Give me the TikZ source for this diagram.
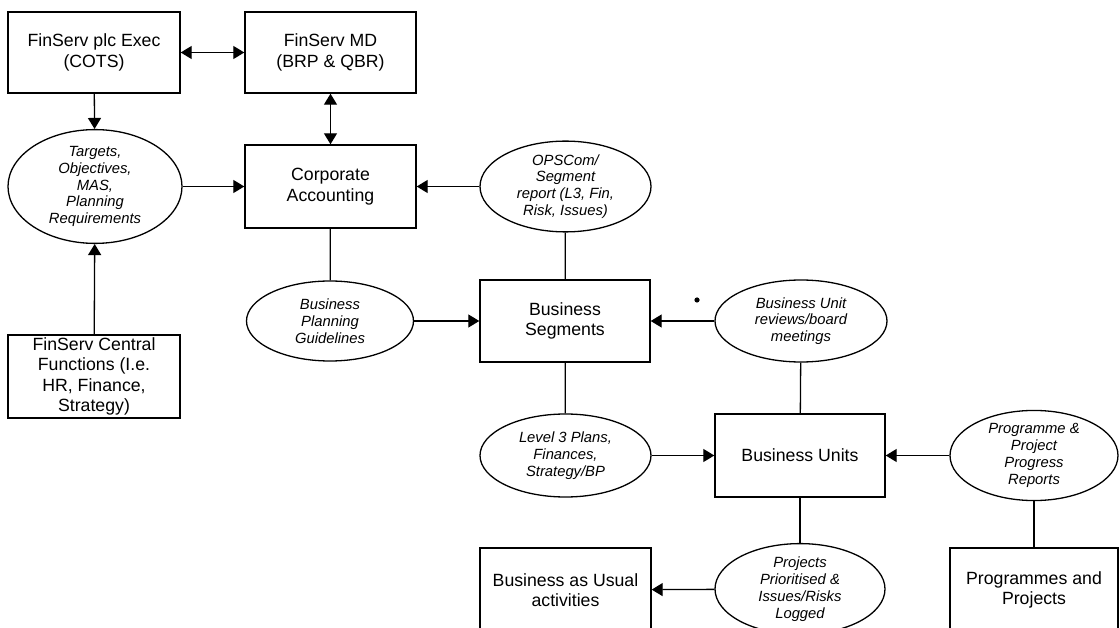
\documentclass[tikz,border=0pt]{standalone}
\usepackage{fontspec}
\setmainfont{Liberation Sans}
\usetikzlibrary{arrows.meta,shapes.geometric}

\tikzset{
  box/.style={draw, rectangle, line width=1.4pt, inner sep=0pt, align=center,
    font=\fontsize{17.7}{20.5}\selectfont},
  bubble/.style={draw, ellipse, line width=1.3pt, inner sep=0pt, align=center,
    font=\fontsize{14.8}{16.8}\selectfont\itshape},
  tip/.tip={Triangle[length=11pt,width=13pt]},
  link/.style={line width=1.3pt},
  flow/.style={line width=1.3pt, -tip},
  twoway/.style={line width=1.3pt, tip-tip}
}

\begin{document}
\begin{tikzpicture}[x=1pt, y=-1pt]
  \clip (0,0) rectangle (1120,628);

  % top row
  \node[box, minimum width=172pt, minimum height=81pt] (exec) at (94,52.5)
    {FinServ plc Exec\\(COTS)};
  \node[box, minimum width=171pt, minimum height=81pt] (md) at (330.5,52.5)
    {FinServ MD\\(BRP \& QBR)};

  % corporate level
  \node[box, minimum width=171pt, minimum height=83pt] (corp) at (330.5,186.5)
    {Corporate\\Accounting};
  \node[bubble, minimum width=174pt, minimum height=82pt] (targets) at (95,186.5)
    {Targets,\\Objectives,\\MAS,\\Planning\\Requirements};
  \node[bubble, minimum width=171pt, minimum height=81pt] (ops) at (565.5,186.5)
    {OPSCom/\\Segment\\report (L3, Fin,\\Risk, Issues)};
  \node[box, minimum width=172pt, minimum height=83pt] (central) at (94,376.5)
    {FinServ Central\\Functions (I.e.\\HR, Finance,\\Strategy)};

  % segment level
  \node[bubble, minimum width=167pt, minimum height=80pt] (bpg) at (330,321)
    {Business\\Planning\\Guidelines};
  \node[box, minimum width=170pt, minimum height=82pt] (seg) at (565,321)
    {Business\\Segments};
  \node[bubble, minimum width=172pt, minimum height=82pt] (bur) at (801,321)
    {Business Unit\\reviews/board\\meetings};

  % unit level
  \node[bubble, minimum width=171pt, minimum height=83pt] (l3) at (565.5,455.5)
    {Level 3 Plans,\\Finances,\\Strategy/BP};
  \node[box, minimum width=170pt, minimum height=83pt] (bu) at (800,455.5)
    {Business Units};
  \node[bubble, minimum width=168pt, minimum height=82pt] (ppr) at (1034,455.5)
    {Programme \&\\Project\\Progress\\Reports};

  % delivery level
  \node[box, minimum width=171pt, minimum height=84pt] (bau) at (565.5,590)
    {Business as Usual\\activities};
  \node[bubble, minimum width=170pt, minimum height=84pt] (ppl) at (800,589)
    {Projects\\Prioritised \&\\Issues/Risks\\Logged};
  \node[box, minimum width=168pt, minimum height=84pt] (pp) at (1034,590)
    {Programmes and\\Projects};

  % stray mark
  \fill (697,300) circle (2.6pt);

  % connectors
  \draw[twoway] (exec) -- (md);
  \draw[twoway] (md) -- (corp);
  \draw[flow] (exec) -- (targets);
  \draw[flow] (central) -- (targets);
  \draw[flow] (targets) -- (corp);
  \draw[flow] (ops) -- (corp);
  \draw[link] (corp) -- (bpg);
  \draw[link] (ops) -- (seg);
  \draw[flow] (bpg) -- (seg);
  \draw[flow] (bur) -- (seg);
  \draw[link] (seg) -- (l3);
  \draw[link] (bur) -- (bu);
  \draw[flow] (l3) -- (bu);
  \draw[flow] (ppr) -- (bu);
  \draw[link] (bu) -- (ppl);
  \draw[flow] (ppl) -- (bau);
  \draw[link] (ppr) -- (pp);
\end{tikzpicture}
\end{document}
